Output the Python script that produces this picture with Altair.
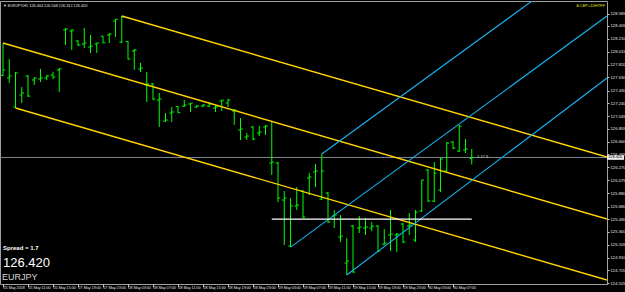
import json
import altair as alt
import pandas as pd

# ---------------- data ----------------
bar_open = [127.660, 127.619, 127.181, 127.363, 127.649, 127.589, 127.604, 127.619, 127.665, 127.740,
            128.343, 128.328, 128.177, 128.132, 128.086, 128.132, 128.250, 128.268, 128.479, 128.162,
            128.170, 128.026, 127.755, 127.514, 127.529, 127.287, 126.970, 127.091, 127.190, 127.196,
            127.226, 127.181, 127.196, 127.196, 127.166, 127.272, 127.242, 127.121, 126.834, 126.728,
            126.880, 126.789, 126.880, 126.337, 126.337, 125.778, 125.083, 125.687, 125.914, 126.110,
            126.201, 125.793, 125.884, 125.536, 125.219, 124.828, 125.385, 125.355, 125.355, 125.355,
            125.385, 125.113, 125.250, 125.250, 125.416, 125.385, 125.174, 125.612, 126.231, 125.763,
            125.929, 126.216, 126.653, 126.517, 126.532, 126.404]
bar_high = [128.147, 127.905, 127.710, 127.483, 127.665, 127.634, 127.755, 127.665, 127.710, 127.770,
            128.373, 128.350, 128.192, 128.373, 128.268, 128.150, 128.253, 128.298, 128.509, 128.554,
            128.177, 128.056, 127.846, 127.710, 127.544, 127.393, 127.091, 127.181, 127.196, 127.287,
            127.242, 127.211, 127.226, 127.257, 127.211, 127.287, 127.302, 127.151, 127.015, 126.789,
            126.894, 126.894, 126.910, 126.970, 126.352, 125.914, 125.808, 125.974, 125.929, 126.185,
            126.321, 126.472, 125.899, 125.627, 125.551, 125.204, 125.400, 125.536, 125.506, 125.446,
            125.400, 125.340, 125.627, 125.280, 125.431, 125.582, 125.627, 126.080, 126.246, 126.352,
            126.412, 126.653, 126.668, 126.910, 126.698, 126.548]
bar_low = [127.649, 127.544, 127.166, 127.242, 127.332, 127.514, 127.559, 127.589, 127.604, 127.408,
           128.117, 128.041, 128.101, 128.071, 127.996, 127.996, 128.147, 128.147, 128.238, 128.147,
           127.900, 127.740, 127.710, 127.257, 127.287, 126.880, 126.955, 126.955, 127.091, 127.181,
           127.106, 127.166, 127.181, 127.181, 127.106, 127.121, 127.181, 126.910, 126.683, 126.683,
           126.683, 126.743, 126.759, 126.156, 125.748, 125.098, 125.068, 125.627, 125.506, 125.853,
           125.974, 125.778, 125.431, 125.355, 125.144, 124.647, 124.677, 125.280, 125.250, 125.310,
           124.993, 125.098, 125.008, 124.993, 125.128, 125.250, 125.144, 125.597, 125.748, 125.748,
           125.899, 126.201, 126.547, 126.502, 126.487, 126.312]
bar_close = [127.740, 127.649, 127.695, 127.393, 127.347, 127.619, 127.619, 127.649, 127.634, 127.755,
             128.358, 128.343, 128.117, 128.147, 128.101, 128.147, 128.150, 128.283, 128.505, 128.539,
             127.905, 128.041, 127.770, 127.529, 127.302, 127.302, 126.985, 127.106, 127.095, 127.211,
             127.240, 127.196, 127.211, 127.226, 127.181, 127.285, 127.287, 127.136, 126.849, 126.743,
             126.698, 126.804, 126.894, 126.352, 125.808, 125.808, 125.687, 125.702, 125.521, 126.125,
             126.216, 126.216, 125.446, 125.551, 125.234, 124.858, 124.692, 125.370, 125.370, 125.385,
             125.008, 125.128, 125.265, 125.265, 125.144, 125.400, 125.597, 126.080, 125.763, 126.185,
             126.397, 126.638, 126.562, 126.894, 126.547, 126.420]

time_labels = ["25 May 2018", "25 May 11:00", "25 May 15:00", "27 May 19:00", "27 May 23:00",
               "28 May 03:00", "28 May 07:00", "28 May 11:00", "28 May 15:00", "28 May 19:00",
               "28 May 23:00", "29 May 03:00", "29 May 07:00", "29 May 11:00", "29 May 15:00",
               "29 May 19:00", "29 May 23:00", "30 May 03:00", "30 May 07:00"]
label_step = 4

price_ticks = [128.585, 128.405, 128.210, 128.015, 127.820, 127.630, 127.430, 127.240, 127.045,
               126.855, 126.660, 126.465, 126.270, 126.075, 125.880, 125.680, 125.490, 125.300,
               125.105, 124.910, 124.720, 124.525]

current_price = 126.420
header_text = "▼ EURJPY,H1 126.404 126.548 126.312 126.420"
corner_text = "Δ CEP+10HTFF"
spread_text = "Spread = 1.7"
symbol_text = "EURJPY"
profit_text = "-3.37 $"

# trend lines (bar index, price) start -> end
yellow_start_i = [19, 0, 2]
yellow_start_p = [128.554, 128.147, 127.166]
yellow_end_i = [96.64, 96.64, 96.64]
yellow_end_p = [126.427, 125.491, 124.571]

blue_start_i = [51, 46, 55]
blue_start_p = [126.472, 125.068, 124.647]
blue_end_i = [96.64, 96.64, 96.64]
blue_end_p = [129.605, 128.555, 127.619]

white_from_i = [43]
white_to_i = [75]
white_level = [125.491]

# ---------------- styling ----------------
LIME = "#00ff00"
YEL = "#ffd400"
BLUE = "#18b4f2"
FONT = "Liberation Sans"

xs = alt.Scale(domain=[-0.48, 96.64], nice=False, zero=False)
ys = alt.Scale(domain=[124.511, 128.781], nice=False, zero=False)

bars = pd.DataFrame({"i": list(range(len(bar_open))), "o": bar_open, "h": bar_high,
                     "l": bar_low, "c": bar_close})

xaxis = alt.Axis(
    values=[label_step * k for k in range(len(time_labels))],
    labelExpr=f"{json.dumps(time_labels)}[round(datum.value/{label_step})]",
    labelAlign="left", labelBaseline="top", labelFontSize=3.7, labelColor="#e6e6e6",
    labelFont=FONT, labelPadding=-1.5, tickSize=3, tickColor="#c8c8c8",
    domain=False, grid=False, title=None, labelOverlap=False, labelFlush=False, labelBound=False,
)
yaxis = alt.Axis(
    orient="right", values=price_ticks, labelExpr="format(datum.value, '.3f')",
    labelFontSize=4.2, labelColor="#e6e6e6", labelFont=FONT, labelPadding=1, tickSize=2,
    tickColor="#c8c8c8", domain=False, grid=False, title=None, labelOverlap=False,
    labelFlush=False, labelBound=False,
)


def X(field):
    return alt.X(field, type="quantitative", scale=xs, axis=xaxis)


def Y(field):
    return alt.Y(field, type="quantitative", scale=ys, axis=yaxis)


cur = pd.DataFrame({"p": [current_price], "i": [len(bar_open) - 1], "t": [profit_text],
                    "lbl": [f"{current_price:.3f}"]})

price_line = alt.Chart(cur).mark_rule(color="#7c8590", strokeWidth=1).encode(y=Y("p"))

wick = alt.Chart(bars).mark_rule(color=LIME, strokeWidth=1).encode(
    x=X("i"), y=Y("h"), y2="l:Q")
open_tick = alt.Chart(bars).transform_calculate(il="datum.i - 0.37").mark_rule(
    color=LIME, strokeWidth=1).encode(x=X("il"), x2="i:Q", y=Y("o"))
close_tick = alt.Chart(bars).transform_calculate(ir="datum.i + 0.37").mark_rule(
    color=LIME, strokeWidth=1).encode(x=X("i"), x2="ir:Q", y=Y("c"))


def line_df(si, sp, ei, ep):
    rows = []
    for k in range(len(si)):
        rows.append({"id": k, "i": si[k], "p": sp[k]})
        rows.append({"id": k, "i": ei[k], "p": ep[k]})
    return pd.DataFrame(rows)


yellow = alt.Chart(line_df(yellow_start_i, yellow_start_p, yellow_end_i, yellow_end_p)).mark_line(
    color=YEL, strokeWidth=1.4, clip=True).encode(x=X("i"), y=Y("p"), detail="id:N")
blue = alt.Chart(line_df(blue_start_i, blue_start_p, blue_end_i, blue_end_p)).mark_line(
    color=BLUE, strokeWidth=1.1, clip=True).encode(x=X("i"), y=Y("p"), detail="id:N")
white = alt.Chart(pd.DataFrame({"a": white_from_i, "b": white_to_i, "p": white_level})).mark_rule(
    color="white", strokeWidth=1.3).encode(x=X("a"), x2="b:Q", y=Y("p"))

profit = alt.Chart(cur).mark_text(align="left", baseline="middle", dx=4, fontSize=4,
                                  color="#b8b8b8", font=FONT).encode(
    x=X("i"), y=Y("p"), text="t:N")

price_box = alt.Chart(cur).transform_calculate(
    p1="datum.p - 0.036", p2="datum.p + 0.036").mark_rect(color="#e8e8e8").encode(
    x=alt.value(607), x2=alt.value(624), y=Y("p1"), y2="p2:Q")
price_box_text = alt.Chart(cur).mark_text(align="left", baseline="middle", fontSize=3.8,
                                          color="black", font=FONT).encode(
    x=alt.value(608.5), y=Y("p"), text="lbl:N")


def label(text, x, y, size, color, align="left", weight="normal"):
    return alt.Chart(pd.DataFrame({"t": [text]})).mark_text(
        align=align, baseline="alphabetic", fontSize=size, color=color, font=FONT,
        fontWeight=weight).encode(x=alt.value(x), y=alt.value(y), text="t:N")


texts = [
    label(header_text, 3, 5.5, 3.8, "#e0e0e0"),
    label(corner_text, 605, 6, 4, "#e6e600", align="right"),
    label(spread_text, 3, 249, 6, "white", weight="bold"),
    label(f"{current_price:.3f}", 3, 266, 13, "white"),
    label(symbol_text, 2, 278.5, 9, "#d8d8d8"),
]

chart = alt.layer(
    price_line, wick, open_tick, close_tick, yellow, blue, white, profit,
    price_box, price_box_text, *texts
).properties(
    width=607, height=283,
    padding={"left": 0, "top": 1, "right": 18, "bottom": 8},
    autosize="none", background="black",
).configure_view(stroke="#a0a0a0", strokeWidth=1)

chart.save("out.html", embed_options={"renderer": "svg", "actions": False})
